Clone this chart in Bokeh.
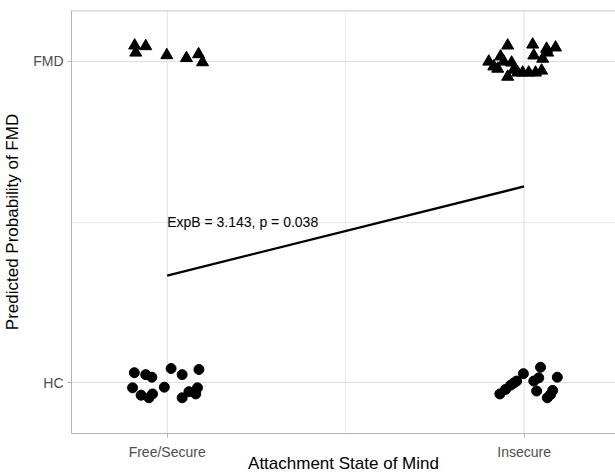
from bokeh.plotting import figure
from bokeh.models import FixedTicker, Span
from bokeh.embed import file_html
from bokeh.resources import INLINE
from bokeh.core.properties import value

# ---- data ----
categories = ["Free/Secure", "Insecure"]
cat_pos = [1, 2]
y_labels = ["HC", "FMD"]
y_pos = [0, 1]

# jittered observations: FMD group (triangles)
fmd_free_x = [0.909, 0.912, 0.940, 0.999, 1.054, 1.088, 1.099]
fmd_free_y = [1.049, 1.027, 1.047, 1.019, 1.010, 1.022, 0.997]
fmd_insec_x = [1.954, 2.024, 2.063, 2.088, 2.066, 2.027, 2.052, 1.934, 1.901, 1.915,
               1.943, 1.965, 1.971, 1.982, 1.954, 1.996, 2.013, 2.032, 2.049, 1.926]
fmd_insec_y = [1.049, 1.052, 1.039, 1.043, 1.027, 1.018, 1.008, 1.015, 0.999, 0.984,
               0.999, 0.996, 0.974, 0.965, 0.952, 0.965, 0.965, 0.965, 0.971, 0.977]

# HC group (circles)
hc_free_x = [0.908, 0.940, 0.957, 1.011, 1.042, 1.089, 0.903, 0.927, 0.949, 0.959,
             0.992, 1.042, 1.061, 1.080, 1.085]
hc_free_y = [0.032, 0.026, 0.018, 0.045, 0.026, 0.042, -0.015, -0.038, -0.046, -0.034,
             -0.013, -0.046, -0.027, -0.034, -0.015]
hc_insec_x = [1.932, 1.948, 1.962, 1.971, 1.979, 1.998, 2.046, 2.041, 2.027, 2.093,
              2.035, 2.065, 2.074, 2.080]
hc_insec_y = [-0.034, -0.020, -0.007, 0.000, 0.006, 0.029, 0.049, 0.016, 0.006, 0.018,
              -0.025, -0.046, -0.036, -0.023]

# fitted logistic line
fit_x = [1, 2]
fit_y = [0.334, 0.611]
annot_text = "ExpB = 3.143, p = 0.038"
annot_x = 1
annot_y = 0.5

FONT = "Liberation Sans"
BORDER = "#B3B3B3"
GRID = "#DEDEDE"
GRID_MINOR = "#E8E8E8"

x_start, x_end = 0.732, 2.256
y_start, y_end = -0.157, 1.158
x_minor = [1.5]
y_minor = [0.5]

p = figure(width=615, height=475, x_range=(x_start, x_end), y_range=(y_start, y_end),
           output_backend="svg", toolbar_location=None, title=None,
           min_border_left=70, min_border_right=0, min_border_top=10, min_border_bottom=0)

p.background_fill_color = "white"
p.border_fill_color = "white"
p.outline_line_color = None
p.outline_line_alpha = 0
p.outline_line_width = 0

p.xaxis.ticker = FixedTicker(ticks=cat_pos, minor_ticks=x_minor)
p.yaxis.ticker = FixedTicker(ticks=y_pos, minor_ticks=y_minor)
p.xaxis.major_label_overrides = {c: l for c, l in zip(cat_pos, categories)}
p.yaxis.major_label_overrides = {c: l for c, l in zip(y_pos, y_labels)}

# vertical grid lines as spans, horizontal via ygrid
p.xgrid.visible = False
for xv in cat_pos:
    p.add_layout(Span(location=xv, dimension="height", line_color=GRID, line_width=1, level="underlay"))
for xv in x_minor:
    p.add_layout(Span(location=xv, dimension="height", line_color=GRID_MINOR, line_width=1, level="underlay"))
p.ygrid.grid_line_color = GRID
p.ygrid.grid_line_width = 1
p.ygrid.minor_grid_line_color = GRID_MINOR
p.ygrid.minor_grid_line_width = 1

for ax in (p.xaxis, p.yaxis):
    ax.axis_line_color = BORDER
    ax.major_tick_line_color = BORDER
    ax.major_tick_out = 4
    ax.major_tick_in = 0
    ax.minor_tick_line_color = None
    ax.major_label_text_color = "#4D4D4D"
    ax.major_label_text_font = FONT
    ax.major_label_text_font_size = "14px"
    ax.major_label_standoff = 4
    ax.axis_label_text_font = FONT
    ax.axis_label_text_font_size = "17px"
    ax.axis_label_text_font_style = "normal"
    ax.axis_label_text_color = "black"

p.xaxis.axis_label = "Attachment State of Mind"
p.yaxis.axis_label = "Predicted Probability of FMD"
p.xaxis.major_label_standoff = 6
p.xaxis.axis_label_standoff = -9
p.yaxis.axis_label_standoff = 8

# top border
p.add_layout(Span(location=y_end, dimension="width", line_color=BORDER, line_width=1.5))

# marks
p.scatter(fmd_free_x, fmd_free_y, marker="triangle", size=12, color="black")
p.scatter(fmd_insec_x, fmd_insec_y, marker="triangle", size=12, color="black")
p.scatter(hc_free_x, hc_free_y, marker="circle", size=10, color="black")
p.scatter(hc_insec_x, hc_insec_y, marker="circle", size=10, color="black")

p.line(fit_x, fit_y, line_color="black", line_width=2.3)
p.text(x=[annot_x], y=[annot_y], text=[annot_text], text_align="left",
       text_baseline="middle", text_font=value(FONT), text_font_size="14px",
       text_color="black")

open("out.html", "w").write(file_html(p, INLINE))
